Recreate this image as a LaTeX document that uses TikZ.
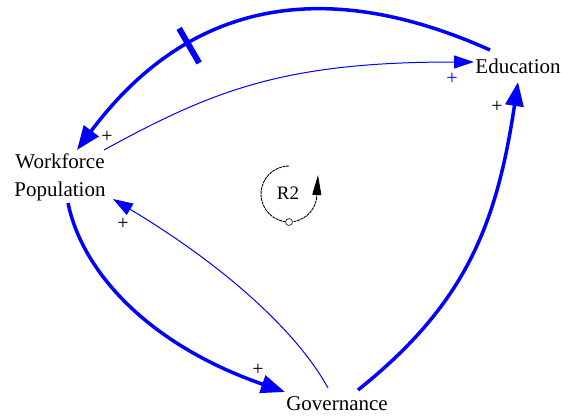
\documentclass[tikz,border=0pt]{standalone}
\usepackage{fontspec}
\setmainfont{Liberation Serif}
\usetikzlibrary{arrows.meta}
\begin{document}
\begin{tikzpicture}[x=1pt,y=-1pt,
  lbl/.style={inner sep=0pt, font=\fontsize{21}{28}\selectfont, align=center},
  thickarc/.style={draw=blue, line width=3.5pt, -{Triangle[length=24pt,width=18pt]}},
  thinarc/.style={draw=blue, line width=1pt, -{Triangle[length=20pt,width=13pt]}},
  sign/.style={inner sep=0pt, font=\fontsize{20}{20}\selectfont},
  loopline/.style={draw=black!75, line width=0.9pt, dash pattern=on 3pt off 0.7pt}]
\useasboundingbox (0,0) rectangle (562,416);
\node[lbl] (edu) at (518,66) {Education};
\node[lbl] (wf) at (60,177) {Workforce\\Population};
\node[lbl] (gov) at (337,404) {Governance};
\node[inner sep=0pt, font=\fontsize{19}{19}\selectfont] (r2) at (288,193) {R2};
\coordinate (lc) at (289,194);
% Education -> Workforce (delay)
\draw[thickarc] ([shift={(-28,-16)}]edu.center) .. controls +(-154,-69) and +(118,-158) .. ([shift={(17,-27)}]wf.center)
  node[pos=0.7, sloped, fill=blue, inner sep=0pt, minimum width=6pt, minimum height=40pt] (delay) {};
% Workforce -> Education
\draw[thinarc] ([shift={(44,-27)}]wf.center) .. controls +(111,-61) and +(-188,0) .. ([shift={(-44,-4)}]edu.center);
% Workforce -> Governance
\draw[thickarc] ([shift={(8,26)}]wf.center) .. controls +(14,68) and +(-138,-48) .. ([shift={(-52,-12)}]gov.center);
% Governance -> Workforce
\draw[thinarc] ([shift={(-9,-16)}]gov.center) .. controls +(-31.5,-57.3) and +(110.5,66.3) .. ([shift={(53,22)}]wf.center);
% Governance -> Education
\draw[thickarc] ([shift={(21,-14)}]gov.center) .. controls +(107,-85.6) and +(-21.6,144.2) .. ([shift={(0,16)}]edu.center);
% polarity signs
\node[sign] (s1) at (107,137) {+};
\node[sign] (s2) at (258,370) {+};
\node[sign] (s3) at (123,224) {+};
\node[sign] (s4) at (497,107) {+};
\node[sign, text=blue] (s5) at (452,79) {+};
% loop symbol
\draw[loopline, -{Triangle[length=20pt,width=9pt]}, black] ([shift={(0,-28)}]lc) arc[start angle=270, end angle=10, radius=28] -- ([shift={(29,-19)}]lc);
\draw[draw=black!75, fill=white, line width=0.8pt] ([shift={(0,28)}]lc) circle[radius=3.5];
\end{tikzpicture}
\end{document}
